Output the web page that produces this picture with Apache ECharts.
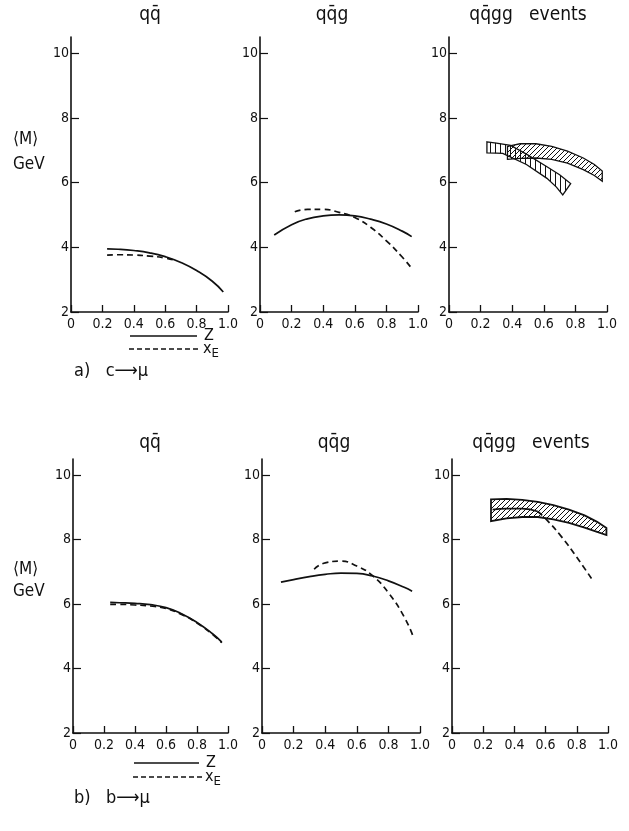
<!DOCTYPE html>
<html>
<head>
<meta charset="utf-8">
<script src="https://cdn.jsdelivr.net/npm/echarts@6/dist/echarts.min.js"></script>
<style>
  html, body { margin: 0; padding: 0; background: #fff; }
  #chart { width: 629px; height: 831px; }
</style>
</head>
<body>
<div id="chart"></div>
<script>
// axis ticks
const xMin = 0, xMax = 1, xStep = 0.2
const yMin = 2, yMax = 10.5, yStep = 2

// a) c -> mu
const aQQ_z = [[0.23,3.95],[0.3,3.94],[0.4,3.9],[0.5,3.83],[0.6,3.71],[0.7,3.53],[0.8,3.28],[0.9,2.95],[0.97,2.62]]
const aQQ_xe = [[0.23,3.76],[0.3,3.77],[0.4,3.76],[0.5,3.73],[0.6,3.67],[0.66,3.6]]
const aQQG_z = [[0.09,4.38],[0.2,4.7],[0.3,4.88],[0.4,4.97],[0.5,5.0],[0.6,4.97],[0.7,4.87],[0.8,4.72],[0.9,4.5],[0.96,4.33]]
const aQQG_xe = [[0.22,5.1],[0.3,5.17],[0.4,5.17],[0.5,5.08],[0.6,4.92],[0.7,4.62],[0.8,4.2],[0.9,3.7],[0.96,3.35]]
const aQQGG_band1Up = [[0.37,7.12],[0.45,7.2],[0.55,7.2],[0.65,7.12],[0.75,6.97],[0.85,6.76],[0.92,6.56],[0.97,6.36]]
const aQQGG_band1Lo = [[0.37,6.72],[0.45,6.75],[0.55,6.76],[0.65,6.72],[0.75,6.6],[0.85,6.4],[0.92,6.22],[0.97,6.04]]
const aQQGG_band2Up = [[0.24,7.26],[0.3,7.22],[0.39,7.15],[0.49,6.88],[0.62,6.49],[0.7,6.24],[0.77,5.97]]
const aQQGG_band2Lo = [[0.24,6.92],[0.3,6.91],[0.34,6.9],[0.49,6.56],[0.62,6.13],[0.68,5.86],[0.72,5.62]]

// b) b -> mu
const bQQ_z = [[0.24,6.05],[0.3,6.04],[0.4,6.02],[0.5,5.98],[0.6,5.89],[0.7,5.7],[0.8,5.43],[0.9,5.08],[0.96,4.82]]
const bQQ_xe = [[0.24,5.99],[0.3,5.99],[0.4,5.97],[0.5,5.94],[0.6,5.86],[0.7,5.68],[0.8,5.41],[0.9,5.06],[0.96,4.8]]
const bQQG_z = [[0.12,6.68],[0.2,6.76],[0.3,6.85],[0.4,6.92],[0.5,6.96],[0.6,6.95],[0.7,6.87],[0.8,6.72],[0.9,6.52],[0.95,6.4]]
const bQQG_xe = [[0.33,7.08],[0.4,7.28],[0.5,7.33],[0.6,7.18],[0.7,6.88],[0.8,6.35],[0.9,5.6],[0.96,4.95]]
const bQQGG_bandUp = [[0.25,9.25],[0.35,9.26],[0.45,9.23],[0.55,9.17],[0.65,9.07],[0.75,8.93],[0.85,8.75],[0.93,8.55],[0.99,8.36]]
const bQQGG_bandLo = [[0.25,8.57],[0.35,8.66],[0.45,8.7],[0.55,8.7],[0.65,8.63],[0.75,8.52],[0.85,8.37],[0.93,8.24],[0.99,8.14]]
const bQQGG_mid = [[0.26,8.93],[0.35,8.96],[0.45,8.96],[0.55,8.87]]
const bQQGG_xe = [[0.55,8.87],[0.6,8.65],[0.7,8.1],[0.8,7.45],[0.9,6.75]]

const panelTitles = ['qq\u0304', 'qq\u0304g', 'qq\u0304gg   events']

const font = 'DejaVu Sans Condensed'
const ink = '#111'

// hatch patterns
const hatch = (kind) => {
  const c = document.createElement('canvas')
  c.width = 5; c.height = 5
  const g = c.getContext('2d')
  g.strokeStyle = ink
  g.lineWidth = 1
  g.beginPath()
  if (kind === 'diag') {
    g.moveTo(-1, 6); g.lineTo(6, -1)
    g.moveTo(-1, 1); g.lineTo(1, -1)
    g.moveTo(4, 6); g.lineTo(6, 4)
  } else {
    g.moveTo(0.5, 0); g.lineTo(0.5, 5)
  }
  g.stroke()
  return { image: c, repeat: 'repeat' }
}
const diagFill = hatch('diag')
const vertFill = hatch('vert')

const grids = [
  { left: 71, top: 37, width: 157, height: 275 },
  { left: 260, top: 37, width: 158, height: 275 },
  { left: 449, top: 37, width: 158, height: 275 },
  { left: 73, top: 459, width: 155, height: 274 },
  { left: 262, top: 459, width: 158, height: 274 },
  { left: 452, top: 459, width: 156, height: 274 }
]

const xAxes = grids.map((_, i) => ({
  type: 'value', gridIndex: i, min: xMin, max: xMax, interval: xStep,
  axisLine: { lineStyle: { color: ink, width: 1.6 } },
  axisTick: { inside: true, length: 7, lineStyle: { color: ink, width: 1.3 } },
  splitLine: { show: false },
  axisLabel: {
    color: ink, fontFamily: font, fontSize: 14, margin: 5,
    formatter: v => v === 0 ? '0' : v.toFixed(1)
  }
}))

const yAxes = grids.map((_, i) => ({
  type: 'value', gridIndex: i, min: yMin, max: yMax, interval: yStep,
  axisLine: { lineStyle: { color: ink, width: 1.6 } },
  axisTick: { inside: true, length: 8, lineStyle: { color: ink, width: 1.2 } },
  splitLine: { show: false },
  axisLabel: { color: ink, fontFamily: font, fontSize: 14, margin: 2, showMaxLabel: false }
}))

const curve = (idx, data, dashed) => ({
  type: 'line', xAxisIndex: idx, yAxisIndex: idx, data,
  smooth: true, showSymbol: false, silent: true,
  lineStyle: { color: ink, width: 1.7, type: dashed ? [6, 4] : 'solid' }
})

const band = (idx, up, lo, fill, w) => ({
  type: 'custom', xAxisIndex: idx, yAxisIndex: idx, silent: true,
  data: [[up[0][0], up[0][1]]],
  renderItem: (params, api) => {
    const pts = up.map(p => api.coord(p)).concat(lo.slice().reverse().map(p => api.coord(p)))
    return {
      type: 'polygon',
      shape: { points: pts },
      style: { fill, stroke: ink, lineWidth: w }
    }
  }
})

const series = [
  curve(0, aQQ_z, false),
  curve(0, aQQ_xe, true),
  curve(1, aQQG_z, false),
  curve(1, aQQG_xe, true),
  band(2, aQQGG_band2Up, aQQGG_band2Lo, vertFill, 1.3),
  band(2, aQQGG_band1Up, aQQGG_band1Lo, diagFill, 1.3),
  curve(3, bQQ_z, false),
  curve(3, bQQ_xe, true),
  curve(4, bQQG_z, false),
  curve(4, bQQG_xe, true),
  band(5, bQQGG_bandUp, bQQGG_bandLo, diagFill, 1.8),
  curve(5, bQQGG_mid, false),
  curve(5, bQQGG_xe, true)
]

const txt = (x, y, text, size, align) => ({
  type: 'text', x, y, silent: true,
  style: { text, fill: ink, font: `${size}px "${font}"`, align: align || 'left', verticalAlign: 'middle' }
})
const seg = (x1, x2, y, dashed) => ({
  type: 'line', silent: true,
  shape: { x1, y1: y, x2, y2: y },
  style: { stroke: ink, lineWidth: 1.5, lineDash: dashed ? [5, 3] : null }
})

const graphics = []
const rowTop = [15, 443]
const titleX = [[150, 332, 528], [150, 334, 531]]
rowTop.forEach((y, r) => {
  panelTitles.forEach((t, i) => graphics.push(txt(titleX[r][i], y, t, 19, 'center')))
})
// y-axis caption
graphics.push(txt(13, 140, '\u27E8M\u27E9', 17))
graphics.push(txt(13, 165, 'GeV', 17))
graphics.push(txt(13, 570, '\u27E8M\u27E9', 17))
graphics.push(txt(13, 592, 'GeV', 17))
// legends
const legendY = [[336, 349], [763, 777]]
const legendX = [[130, 197], [134, 199]]
legendY.forEach((ly, r) => {
  const [x1, x2] = legendX[r]
  graphics.push(seg(x1, x2, ly[0], false))
  graphics.push(seg(x1 - 1, x2 + 3, ly[1], true))
  graphics.push(txt(x2 + 7, ly[0], 'Z', 16))
  graphics.push({
    type: 'text', x: x2 + 6, y: ly[1], silent: true,
    style: {
      text: '{m|x}{s|E}', verticalAlign: 'middle',
      rich: {
        m: { fill: ink, fontFamily: font, fontSize: 16 },
        s: { fill: ink, fontFamily: font, fontSize: 13, padding: [10, 0, 0, 0] }
      }
    }
  })
})
graphics.push(txt(74, 371, 'a)   c\u27F6\u03BC', 18))
graphics.push(txt(74, 798, 'b)   b\u27F6\u03BC', 18))

const chart = echarts.init(document.getElementById('chart'), null, { renderer: 'canvas' })
chart.setOption({
  animation: false,
  backgroundColor: '#fff',
  grid: grids,
  xAxis: xAxes,
  yAxis: yAxes,
  series,
  graphic: graphics
})
</script>
</body>
</html>
